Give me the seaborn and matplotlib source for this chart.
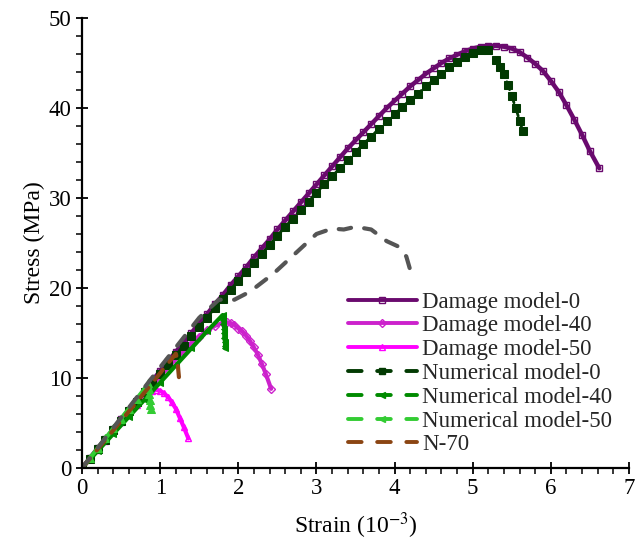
import numpy as np
import pandas as pd
import matplotlib
matplotlib.use("Agg")
import matplotlib.pyplot as plt
import seaborn as sns
from matplotlib.lines import Line2D

# ---- data (strain in 1e-3, stress in MPa) ----
dm0_strain = [0.0, 0.1, 0.2, 0.3, 0.4, 0.5, 0.6, 0.7, 0.8, 0.9, 1.0, 1.1, 1.2, 1.3, 1.4,
              1.5, 1.6, 1.7, 1.8, 1.9, 2.0, 2.1, 2.2, 2.3, 2.4, 2.5, 2.6, 2.7, 2.8, 2.9,
              3.0, 3.1, 3.2, 3.3, 3.4, 3.5, 3.6, 3.7, 3.8, 3.9, 4.0, 4.1, 4.2, 4.3, 4.4,
              4.5, 4.6, 4.7, 4.8, 4.9, 5.0, 5.1, 5.2, 5.3, 5.4, 5.5, 5.6, 5.7, 5.8, 5.9,
              6.0, 6.1, 6.2, 6.3, 6.4, 6.5, 6.62]
dm0_stress = [0.0, 1.1, 2.2, 3.2, 4.3, 5.4, 6.5, 7.5, 8.6, 9.7, 10.8, 11.9, 12.9, 14.0, 15.0,
              16.1, 17.1, 18.2, 19.2, 20.3, 21.3, 22.3, 23.4, 24.4, 25.4, 26.5, 27.5, 28.5, 29.5, 30.5,
              31.5, 32.5, 33.5, 34.5, 35.5, 36.4, 37.3, 38.2, 39.1, 40.0, 40.8, 41.6, 42.4, 43.1, 43.8,
              44.4, 45.0, 45.5, 45.9, 46.3, 46.6, 46.8, 46.9, 46.9, 46.8, 46.6, 46.2, 45.6, 44.9, 44.1,
              43.0, 41.8, 40.3, 38.7, 37.0, 35.2, 33.3]

dm40_strain = [0.0, 0.2, 0.4, 0.6, 0.8, 1.0, 1.2, 1.3, 1.4, 1.5, 1.6, 1.7, 1.8, 1.85, 1.9,
               1.95, 2.0, 2.05, 2.1, 2.15, 2.2, 2.25, 2.3, 2.35, 2.42]
dm40_stress = [0.0, 2.1, 4.1, 6.2, 8.2, 10.2, 12.1, 13.0, 13.8, 14.6, 15.3, 15.8, 16.1, 16.2, 16.1,
               15.9, 15.5, 15.2, 14.7, 14.1, 13.4, 12.6, 11.6, 10.5, 8.8]

dm50_strain = [0.0, 0.1, 0.2, 0.3, 0.4, 0.5, 0.6, 0.7, 0.8, 0.85, 0.9, 0.95, 1.0, 1.05,
               1.1, 1.15, 1.2, 1.25, 1.3, 1.36]
dm50_stress = [0.0, 1.0, 2.0, 3.0, 4.1, 5.1, 6.1, 7.0, 7.9, 8.3, 8.6, 8.7, 8.6, 8.3,
               7.9, 7.3, 6.6, 5.6, 4.6, 3.3]

nm0_strain = [0.0, 0.1, 0.2, 0.3, 0.4, 0.5, 0.6, 0.7, 0.8, 0.9, 1.0, 1.1, 1.2, 1.3, 1.4,
              1.5, 1.6, 1.7, 1.8, 1.9, 2.0, 2.1, 2.2, 2.3, 2.4, 2.5, 2.6, 2.7, 2.8, 2.9,
              3.0, 3.1, 3.2, 3.3, 3.4, 3.5, 3.6, 3.7, 3.8, 3.9, 4.0, 4.1, 4.2, 4.3, 4.4,
              4.5, 4.6, 4.7, 4.8, 4.9, 5.0, 5.1, 5.2, 5.3, 5.35, 5.4, 5.45, 5.5, 5.55, 5.6, 5.64]
nm0_stress = [0.0, 1.0, 2.1, 3.1, 4.2, 5.2, 6.3, 7.3, 8.4, 9.4, 10.5, 11.5, 12.6, 13.6, 14.7,
              15.7, 16.7, 17.8, 18.8, 19.8, 20.8, 21.8, 22.8, 23.8, 24.8, 25.8, 26.8, 27.7, 28.7, 29.6,
              30.6, 31.5, 32.4, 33.3, 34.2, 35.1, 36.0, 36.8, 37.7, 38.5, 39.3, 40.1, 40.9, 41.6, 42.4,
              43.1, 43.8, 44.5, 45.1, 45.7, 46.1, 46.4, 46.4, 45.3, 44.6, 43.8, 42.6, 41.3, 40.0, 38.6, 37.4]

nm40_strain = [0.0, 0.2, 0.4, 0.6, 0.8, 1.0, 1.2, 1.4, 1.6, 1.8, 1.81, 1.81, 1.82, 1.82, 1.82,
               1.83, 1.83, 1.83]
nm40_stress = [0.0, 1.9, 3.8, 5.7, 7.6, 9.5, 11.4, 13.3, 15.2, 17.0, 16.5, 16.0, 15.5, 15.0, 14.5,
               14.0, 13.6, 13.3]

nm50_strain = [0.0, 0.1, 0.2, 0.3, 0.4, 0.5, 0.6, 0.7, 0.8, 0.85, 0.86, 0.86, 0.87, 0.87, 0.88]
nm50_stress = [0.0, 1.1, 2.2, 3.3, 4.4, 5.5, 6.6, 7.7, 8.8, 9.4, 8.8, 8.2, 7.6, 7.0, 6.6]

n70_strain = [0.0, 0.4, 0.8, 1.2, 1.22, 1.24]
n70_stress = [0.0, 4.2, 8.4, 12.7, 12.0, 10.1]

ref_strain = [0.0, 0.5, 1.0, 1.5, 1.75, 1.95, 2.15, 2.45, 2.75, 3.0, 3.2, 3.35, 3.5, 3.7,
              3.9, 4.05, 4.15, 4.2]
ref_stress = [0.0, 5.6, 11.2, 16.7, 18.7, 18.7, 19.6, 21.6, 24.0, 26.0, 26.6, 26.5, 26.8, 26.5,
              25.2, 24.6, 23.5, 22.0]

labels = ["Damage model-0", "Damage model-40", "Damage model-50",
          "Numerical model-0", "Numerical model-40", "Numerical model-50", "N-70"]
colors = ["#6a0a6e", "#cc22cc", "#ff00ff", "#023a02", "#008a00", "#33cc33", "#8b4513"]

sns.set_theme(style="white")
plt.rcParams["font.family"] = ["Liberation Serif", "DejaVu Serif"]
plt.rcParams["mathtext.fontset"] = "stix"

fig = plt.figure(figsize=(6.36, 5.43), dpi=100)
ax = fig.add_axes([0.129, 0.138, 0.86, 0.829])

series = [
    (dm0_strain, dm0_stress, dict(color=colors[0], lw=3.2, ls="-", marker="s", ms=4.5,
                                  mfc="none", mec=colors[0], mew=1.0)),
    (dm40_strain, dm40_stress, dict(color=colors[1], lw=3.0, ls="-", marker="D", ms=4,
                                    mfc="none", mec=colors[1], mew=1.0)),
    (dm50_strain, dm50_stress, dict(color=colors[2], lw=3.0, ls="-", marker="^", ms=5,
                                    mfc="none", mec=colors[2], mew=1.0)),
    (nm0_strain, nm0_stress, dict(color=colors[3], lw=2.0, ls=(0, (3, 2)), marker="s", ms=5.5,
                                  mfc=colors[3], mec=colors[3])),
    (nm40_strain, nm40_stress, dict(color=colors[4], lw=3.0, ls="-", marker="<", ms=5,
                                    mfc=colors[4], mec=colors[4])),
    (nm50_strain, nm50_stress, dict(color=colors[5], lw=3.0, ls="-", marker="^", ms=6,
                                    mfc=colors[5], mec=colors[5])),
    (n70_strain, n70_stress, dict(color=colors[6], lw=3.0, ls=(0, (3, 2.5)), marker=None)),
]

for (x, y, kw), lab in zip(series, labels):
    df = pd.DataFrame({"strain": x, "stress": y})
    sns.lineplot(data=df, x="strain", y="stress", ax=ax, sort=False, estimator=None,
                 legend=False, solid_capstyle="round", dash_capstyle="round", **kw)

# unlabelled reference curve (grey dashes)
df_ref = pd.DataFrame({"strain": ref_strain, "stress": ref_stress})
sns.lineplot(data=df_ref, x="strain", y="stress", ax=ax, sort=False, estimator=None,
             legend=False, color="#555555", lw=3.0, ls=(0, (3, 3.2)),
             dash_capstyle="round")

# legend handles
handles = []
hstyles = [
    dict(ls="-", marker="s", ms=5, mfc="none"),
    dict(ls="-", marker="D", ms=4, mfc="none"),
    dict(ls="-", marker="^", ms=5, mfc="none"),
    dict(ls=(0, (3.5, 4)), marker="s", ms=5),
    dict(ls=(0, (3.5, 4)), marker="<", ms=5),
    dict(ls=(0, (3.5, 4)), marker="<", ms=5),
    dict(ls=(0, (3.5, 4)), marker=None),
]
for c, lab, hs in zip(colors, labels, hstyles):
    handles.append(Line2D([], [], color=c, lw=2.8, mec=c, dash_capstyle="round",
                          label=lab, **hs))
ax.legend(handles=handles, loc="upper left", bbox_to_anchor=(0.486, 0.392),
          frameon=False, fontsize=16.5, handlelength=3.0, handletextpad=0.25,
          labelspacing=0.12, borderpad=0, borderaxespad=0, numpoints=1)

ax.set_xlim(0, 7)
ax.set_ylim(0, 50)
ax.set_xticks(np.arange(0, 8, 1))
ax.set_yticks(np.arange(0, 60, 10))
ax.set_xticks(np.arange(0, 7.01, 0.2), minor=True)
ax.set_yticks(np.arange(0, 50.1, 2), minor=True)
ax.tick_params(which="major", direction="inout", length=9, width=1.3, labelsize=16.5,
               color="black", labelcolor="black", bottom=True, left=True, pad=3)
ax.tick_params(which="minor", direction="out", length=4, width=1.1, color="black",
               bottom=True, left=True)
for s in ["top", "right"]:
    ax.spines[s].set_visible(False)
for s in ["left", "bottom"]:
    ax.spines[s].set_color("black")
    ax.spines[s].set_linewidth(1.6)

ax.set_xlabel(r"Strain (10$^{-3}$)", fontsize=17, color="black", labelpad=8)
ax.set_ylabel("Stress (MPa)", fontsize=17, color="black", labelpad=3)

fig.savefig("out.png", dpi=100)
